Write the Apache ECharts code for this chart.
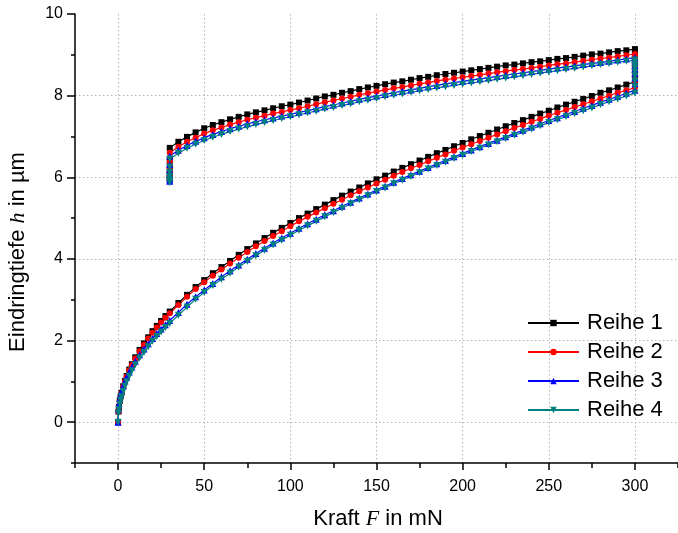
<!DOCTYPE html>
<html>
<head>
<meta charset="utf-8">
<script src="https://cdn.jsdelivr.net/npm/echarts@6/dist/echarts.min.js"></script>
<style>
  html, body { margin: 0; padding: 0; background: #fff; }
  #chart { width: 678px; height: 533px; }
</style>
</head>
<body>
<div id="chart"></div>
<script>
const seriesNames = ['Reihe 1', 'Reihe 2', 'Reihe 3', 'Reihe 4'];

// Kraft beim Belasten (mN)
const loadForce = [0, 0.25, 0.5, 1, 1.5, 2, 3, 4, 5, 6.5, 8, 10, 12.5, 15, 17.5, 20, 22.5, 25, 27.5, 30,
  35, 40, 45, 50, 55, 60, 65, 70, 75, 80, 85, 90, 95, 100,
  105, 110, 115, 120, 125, 130, 135, 140, 145, 150, 155, 160, 165, 170, 175, 180, 185, 190, 195, 200,
  205, 210, 215, 220, 225, 230, 235, 240, 245, 250, 255, 260, 265, 270, 275, 280, 285, 290, 295, 300];

// Kraft beim Entlasten (aufsteigend notiert, wird rückwärts durchlaufen)
const unloadForce = [30, 35, 40, 45, 50, 55, 60, 65, 70, 75, 80, 85, 90, 95, 100,
  105, 110, 115, 120, 125, 130, 135, 140, 145, 150, 155, 160, 165, 170, 175, 180, 185, 190, 195, 200,
  205, 210, 215, 220, 225, 230, 235, 240, 245, 250, 255, 260, 265, 270, 275, 280, 285, 290, 295, 300];

const holdHighForce = 300;
const holdLowForce = 30;

const load1 = [0, 0.26, 0.37, 0.52, 0.63, 0.72, 0.88, 1.01, 1.13, 1.29, 1.42, 1.59, 1.77, 1.93, 2.08, 2.23, 2.36, 2.48, 2.60, 2.71,
  2.92, 3.12, 3.31, 3.48, 3.65, 3.80, 3.95, 4.10, 4.24, 4.38, 4.51, 4.64, 4.76, 4.88,
  5.00, 5.11, 5.22, 5.33, 5.44, 5.55, 5.65, 5.75, 5.85, 5.95, 6.04, 6.14, 6.23, 6.32, 6.41, 6.50, 6.59, 6.67, 6.76, 6.84,
  6.93, 7.01, 7.09, 7.17, 7.25, 7.33, 7.40, 7.48, 7.56, 7.63, 7.71, 7.78, 7.85, 7.92, 7.99, 8.07, 8.13, 8.20, 8.27, 8.34];
const load2 = [0, 0.26, 0.37, 0.51, 0.62, 0.71, 0.87, 0.99, 1.11, 1.27, 1.40, 1.56, 1.74, 1.90, 2.05, 2.19, 2.32, 2.44, 2.56, 2.67,
  2.87, 3.07, 3.26, 3.43, 3.59, 3.74, 3.89, 4.03, 4.17, 4.31, 4.44, 4.56, 4.68, 4.80,
  4.92, 5.03, 5.14, 5.24, 5.35, 5.45, 5.56, 5.66, 5.75, 5.85, 5.94, 6.04, 6.13, 6.22, 6.30, 6.39, 6.48, 6.56, 6.65, 6.73,
  6.81, 6.89, 6.97, 7.05, 7.13, 7.21, 7.28, 7.36, 7.43, 7.51, 7.58, 7.65, 7.72, 7.79, 7.86, 7.93, 8.00, 8.07, 8.13, 8.20];
const load3 = [0, 0.32, 0.45, 0.58, 0.68, 0.76, 0.89, 1.00, 1.10, 1.23, 1.35, 1.49, 1.65, 1.79, 1.92, 2.05, 2.17, 2.28, 2.39, 2.49,
  2.69, 2.89, 3.07, 3.24, 3.40, 3.56, 3.71, 3.85, 3.99, 4.13, 4.26, 4.39, 4.51, 4.63,
  4.75, 4.86, 4.97, 5.08, 5.18, 5.29, 5.39, 5.49, 5.59, 5.69, 5.78, 5.88, 5.97, 6.06, 6.15, 6.24, 6.33, 6.41, 6.50, 6.58,
  6.67, 6.75, 6.83, 6.91, 6.99, 7.07, 7.15, 7.23, 7.31, 7.39, 7.46, 7.54, 7.61, 7.69, 7.76, 7.84, 7.91, 7.98, 8.06, 8.13];
const load4 = [0, 0.22, 0.31, 0.44, 0.54, 0.62, 0.76, 0.88, 0.99, 1.13, 1.26, 1.41, 1.57, 1.71, 1.85, 1.98, 2.10, 2.21, 2.32, 2.42,
  2.62, 2.82, 3.01, 3.18, 3.35, 3.50, 3.65, 3.80, 3.94, 4.08, 4.21, 4.34, 4.46, 4.58,
  4.70, 4.81, 4.92, 5.03, 5.14, 5.24, 5.35, 5.45, 5.55, 5.65, 5.74, 5.84, 5.93, 6.02, 6.11, 6.20, 6.29, 6.37, 6.46, 6.54,
  6.63, 6.71, 6.79, 6.87, 6.95, 7.03, 7.10, 7.18, 7.26, 7.34, 7.41, 7.49, 7.56, 7.63, 7.70, 7.78, 7.85, 7.92, 7.99, 8.06];

// Haltephase bei 300 mN (Kriechen)
const holdHigh1 = [8.50, 8.64, 8.76, 8.86, 8.95, 9.02, 9.08];
const holdHigh2 = [8.36, 8.50, 8.62, 8.72, 8.81, 8.88, 8.95];
const holdHigh3 = [8.29, 8.43, 8.55, 8.65, 8.74, 8.81, 8.87];
const holdHigh4 = [8.22, 8.36, 8.48, 8.58, 8.67, 8.74, 8.81];

const unload1 = [6.72, 6.87, 6.99, 7.10, 7.20, 7.28, 7.35, 7.42, 7.48, 7.54, 7.59, 7.64, 7.69, 7.74, 7.78,
  7.83, 7.88, 7.93, 7.98, 8.02, 8.07, 8.11, 8.16, 8.20, 8.24, 8.28, 8.32, 8.35, 8.39, 8.43, 8.46, 8.50, 8.53, 8.56, 8.59,
  8.62, 8.65, 8.68, 8.71, 8.74, 8.76, 8.79, 8.82, 8.84, 8.87, 8.90, 8.92, 8.95, 8.98, 9.01, 9.03, 9.06, 9.09, 9.11, 9.14];
const unload2 = [6.60, 6.75, 6.87, 6.97, 7.07, 7.15, 7.22, 7.29, 7.35, 7.41, 7.46, 7.51, 7.56, 7.60, 7.65,
  7.69, 7.74, 7.79, 7.84, 7.88, 7.93, 7.97, 8.02, 8.06, 8.10, 8.14, 8.18, 8.21, 8.25, 8.29, 8.32, 8.36, 8.39, 8.42, 8.45,
  8.48, 8.51, 8.54, 8.57, 8.60, 8.63, 8.65, 8.68, 8.71, 8.74, 8.77, 8.79, 8.82, 8.85, 8.88, 8.91, 8.93, 8.96, 8.99, 9.02];
const unload3 = [6.52, 6.66, 6.78, 6.88, 6.97, 7.05, 7.12, 7.19, 7.25, 7.31, 7.36, 7.41, 7.45, 7.50, 7.54,
  7.59, 7.63, 7.68, 7.73, 7.77, 7.82, 7.86, 7.91, 7.95, 7.99, 8.03, 8.07, 8.11, 8.14, 8.18, 8.22, 8.25, 8.29, 8.32, 8.35,
  8.38, 8.41, 8.44, 8.47, 8.50, 8.53, 8.56, 8.59, 8.62, 8.65, 8.68, 8.70, 8.73, 8.76, 8.79, 8.81, 8.84, 8.87, 8.90, 8.93];
const unload4 = [6.45, 6.59, 6.71, 6.81, 6.90, 6.98, 7.05, 7.12, 7.18, 7.24, 7.29, 7.34, 7.39, 7.44, 7.48,
  7.53, 7.58, 7.62, 7.67, 7.71, 7.76, 7.80, 7.85, 7.89, 7.93, 7.97, 8.01, 8.04, 8.08, 8.12, 8.15, 8.19, 8.22, 8.25, 8.28,
  8.31, 8.34, 8.37, 8.40, 8.43, 8.46, 8.49, 8.52, 8.55, 8.58, 8.61, 8.64, 8.67, 8.70, 8.73, 8.76, 8.79, 8.82, 8.84, 8.87];

// Haltephase bei 30 mN (Rückkriechen)
const holdLow1 = [6.45, 6.30, 6.18, 6.09, 6.02, 5.96];
const holdLow2 = [6.38, 6.24, 6.13, 6.04, 5.98, 5.93];
const holdLow3 = [6.31, 6.18, 6.07, 5.99, 5.94, 5.90];
const holdLow4 = [6.25, 6.12, 6.02, 5.95, 5.90, 5.87];

const colors = ['#000000', '#ff0000', '#0000ff', '#008080'];

/**
 * Messkurve zusammensetzen: Belasten, Halten, Entlasten, Halten
 */
function buildCurve(load, holdHigh, unload, holdLow) {
  const pts = [];
  loadForce.forEach((f, i) => pts.push([f, load[i]]));
  holdHigh.forEach((h) => pts.push([holdHighForce, h]));
  for (let i = unloadForce.length - 1; i >= 0; i--) {
    pts.push([unloadForce[i], unload[i]]);
  }
  holdLow.forEach((h) => pts.push([holdLowForce, h]));
  return pts;
}

function makeSeries(idx, data, symbol, size, rotate) {
  return {
    name: seriesNames[idx],
    type: 'line',
    data,
    symbol,
    symbolSize: size,
    symbolRotate: rotate,
    showAllSymbol: true,
    color: colors[idx],
    lineStyle: { color: colors[idx], width: 1.2 },
    itemStyle: { color: colors[idx] },
    emphasis: { disabled: true },
  };
}

const fontSans = 'Liberation Sans, Arial, sans-serif';
const fontSerif = 'Liberation Serif, Times New Roman, serif';
const gridLine = { color: '#b4b4b4', type: [1.5, 2.5], width: 1 };
const axisBlack = { color: '#000', width: 1.5 };

const titleRich = {
  a: { fontSize: 22, fontFamily: fontSans, fill: '#000' },
  b: { fontSize: 22, fontFamily: fontSerif, fontStyle: 'italic', fill: '#000' },
};

const option = {
  animation: false,
  backgroundColor: '#fff',
  grid: { left: 75, top: 14, right: -4, bottom: 70, containLabel: false },
  xAxis: [
    {
      type: 'value', min: -25, max: 325, splitNumber: 7, position: 'bottom',
      axisLine: { show: true, onZero: false, lineStyle: axisBlack },
      axisTick: { show: true, inside: false, length: 7, lineStyle: axisBlack },
      axisLabel: { color: '#000', fontSize: 16, fontFamily: fontSans, margin: 16,
        showMinLabel: false, showMaxLabel: false },
      splitLine: { show: true, showMinLine: false, showMaxLine: false, lineStyle: gridLine },
    },
    {
      type: 'value', min: -25, max: 325, interval: 25, position: 'bottom',
      axisLine: { show: false, onZero: false },
      axisTick: { show: true, inside: false, length: 5, lineStyle: axisBlack },
      axisLabel: { show: false },
      splitLine: { show: false },
    },
  ],
  yAxis: [
    {
      type: 'value', min: -1, max: 10, splitNumber: 5, position: 'left',
      axisLine: { show: true, onZero: false, lineStyle: axisBlack },
      axisTick: { show: true, inside: false, length: 8, lineStyle: axisBlack },
      axisLabel: { color: '#000', fontSize: 16, fontFamily: fontSans, margin: 12, showMinLabel: false },
      splitLine: { show: true, showMinLine: false, showMaxLine: false, lineStyle: gridLine },
    },
    {
      type: 'value', min: -1, max: 10, interval: 1, position: 'left', offset: 0,
      axisLine: { show: false, onZero: false },
      axisTick: { show: true, inside: false, length: 4, lineStyle: axisBlack },
      axisLabel: { show: false },
      splitLine: { show: false },
    },
  ],
  legend: {
    orient: 'vertical',
    left: 527,
    top: 312,
    padding: 0,
    itemWidth: 51,
    itemHeight: 8,
    itemGap: 7,
    data: seriesNames,
    textStyle: { fontSize: 22, fontFamily: fontSans, color: '#000', lineHeight: 22, padding: [0, 0, 0, 3] },
  },
  graphic: [
    {
      type: 'text', x: 378, y: 519,
      style: { text: '{a|Kraft }{b|F}{a| in mN}', rich: titleRich, align: 'center', verticalAlign: 'middle' },
    },
    {
      type: 'text', x: 18, y: 252, rotation: Math.PI / 2,
      style: { text: '{a|Eindringtiefe }{b|h}{a| in µm}', rich: titleRich, align: 'center', verticalAlign: 'middle' },
    },
  ],
  series: [
    makeSeries(0, buildCurve(load1, holdHigh1, unload1, holdLow1), 'rect', 6, 0),
    makeSeries(1, buildCurve(load2, holdHigh2, unload2, holdLow2), 'circle', 6, 0),
    makeSeries(2, buildCurve(load3, holdHigh3, unload3, holdLow3), 'triangle', 7, 0),
    makeSeries(3, buildCurve(load4, holdHigh4, unload4, holdLow4), 'triangle', 7, 180),
  ],
};

const chart = echarts.init(document.getElementById('chart'), null, { renderer: 'canvas' });
chart.setOption(option);
</script>
</body>
</html>
